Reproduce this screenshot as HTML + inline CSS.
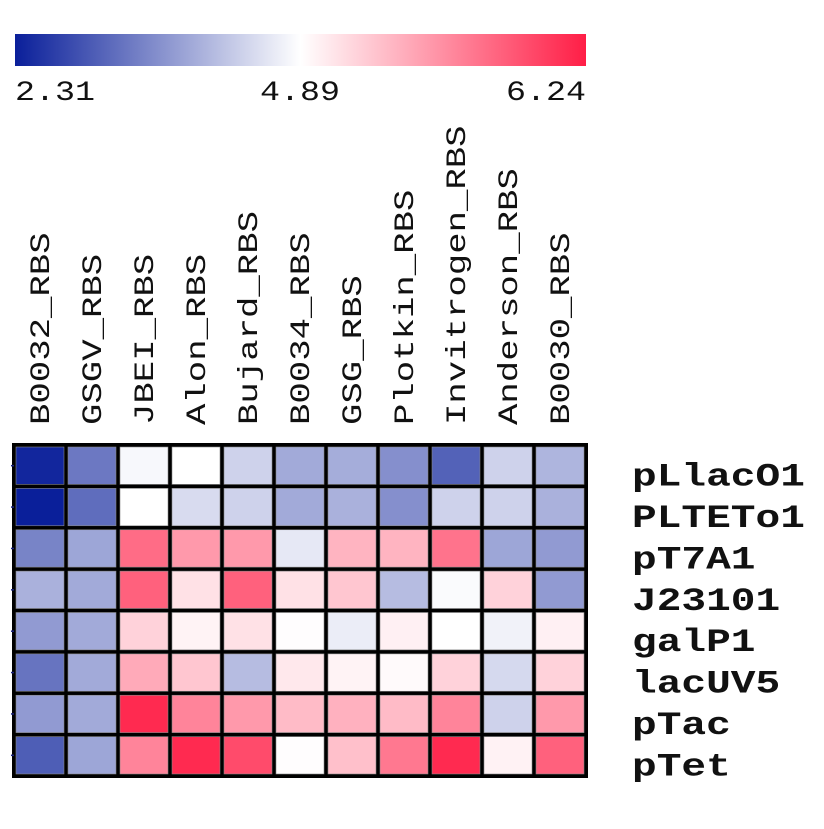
<!DOCTYPE html>
<html><head><meta charset="utf-8"><style>
html,body{margin:0;padding:0;background:#fff;}
text{font-family:"Liberation Mono",monospace;fill:#111;}
</style></head><body>
<svg id="chart" width="824" height="824" xmlns="http://www.w3.org/2000/svg">
<defs>
<linearGradient id="cb" x1="0" x2="1" y1="0" y2="0">
<stop offset="0" stop-color="#0a1f9a"/><stop offset="0.5" stop-color="#ffffff"/><stop offset="1" stop-color="#ff1e46"/>
</linearGradient>
</defs>
<rect x="15" y="34" width="571" height="32" fill="url(#cb)"/>
<g id="cbl"></g>
<g id="cols"></g>
<g id="grid"></g>
<g id="rowl"></g>
</svg>
<script>
const columns=["B0032_RBS","GSGV_RBS","JBEI_RBS","Alon_RBS","Bujard_RBS","B0034_RBS","GSG_RBS","Plotkin_RBS","Invitrogen_RBS","Anderson_RBS","B0030_RBS"];
const rows=["pLlacO1","PLTETo1","pT7A1","J23101","galP1","lacUV5","pTac","pTet"];
const colorTicks=["2.31","4.89","6.24"];
const vMin=2.31, vMid=4.89, vMax=6.24;
const valuesPLlacO1=[2.39,3.34,4.81,4.89,4.37,3.91,3.94,3.6,3.08,4.37,4.04];
const valuesPLTETo1=[2.31,3.21,4.89,4.48,4.37,3.91,3.99,3.6,4.37,4.37,3.99];
const valuesPT7A1=[3.47,3.86,5.77,5.5,5.5,4.63,5.34,5.34,5.73,3.86,3.73];
const valuesJ23101=[3.99,3.91,5.84,5.07,5.84,5.07,5.23,4.12,4.84,5.16,3.73];
const valuesGalP1=[3.73,3.91,5.16,4.96,5.07,4.9,4.68,4.98,4.89,4.74,4.98];
const valuesLacUV5=[3.29,3.91,5.4,5.23,4.12,5.03,4.96,4.92,5.16,4.45,5.16];
const valuesPTac=[3.73,3.91,6.17,5.63,5.5,5.3,5.36,5.3,5.63,4.37,5.5];
const valuesPTet=[3.03,3.86,5.63,6.17,5.97,4.9,5.27,5.7,6.17,4.97,5.84];
const matrix=[valuesPLlacO1,valuesPLTETo1,valuesPT7A1,valuesJ23101,valuesGalP1,valuesLacUV5,valuesPTac,valuesPTet];

const NS="http://www.w3.org/2000/svg";
const gx0=14,gx1=586,gy0=445,gy1=776;
const cw=(gx1-gx0)/columns.length, rh=(gy1-gy0)/rows.length;
function xPos(i){return gx0+i*cw;}
function yPos(j){return gy0+j*rh;}
function color(v){
  let a,b,t;
  if(v<=vMid){t=(v-vMin)/(vMid-vMin);a=[10,31,154];b=[255,255,255];}
  else{t=(v-vMid)/(vMax-vMid);a=[255,255,255];b=[255,30,70];}
  t=Math.max(0,Math.min(1,t));
  return "rgb("+a.map((c,k)=>Math.round(c+(b[k]-c)*t)).join(",")+")";
}
function mk(tag,attrs,parent){const e=document.createElementNS(NS,tag);for(const k in attrs)e.setAttribute(k,attrs[k]);parent.appendChild(e);return e;}

const cbl=document.getElementById('cbl');
colorTicks.forEach((t,i)=>{
  const x=[15,300,586][i];
  const anchor=["start","middle","end"][i];
  const e=mk('text',{x:x,y:100,'font-size':'28','text-anchor':anchor,'textLength':'80','lengthAdjust':'spacingAndGlyphs'},cbl);
  
  
  e.textContent=t;
});

const cols=document.getElementById('cols');
columns.forEach((c,i)=>{
  const cx=xPos(i)+cw/2+9;
  const e=mk('text',{x:0,y:0,'font-size':'28',transform:'translate('+cx+',425) rotate(-90)','textLength':String(c.length*21.4),'lengthAdjust':'spacingAndGlyphs'},cols);
  
  
  e.textContent=c;
});

const grid=document.getElementById('grid');
mk('rect',{x:gx0-2,y:gy0-2,width:gx1-gx0+4,height:gy1-gy0+4,fill:'#000'},grid);
matrix.forEach((row,j)=>{
  row.forEach((v,i)=>{
    const r=mk('rect',{x:xPos(i)+2,y:yPos(j)+2,width:cw-4,height:rh-4,fill:color(v),stroke:'#888','stroke-width':'0.6'},grid);
    
    
  });
  const tk=mk('line',{x1:gx0-3,x2:gx0,y1:yPos(j)+rh/2,y2:yPos(j)+rh/2,stroke:'#1a237e','stroke-width':'1.5'},grid);
  
  
});

const rowl=document.getElementById('rowl');
rows.forEach((r,j)=>{
  const e=mk('text',{x:632,y:yPos(j)+rh/2+20,'font-size':'32','font-weight':'bold','textLength':String(r.length*24.7),'lengthAdjust':'spacingAndGlyphs'},rowl);
  
  
  e.textContent=r;
});
</script>
</body></html>
